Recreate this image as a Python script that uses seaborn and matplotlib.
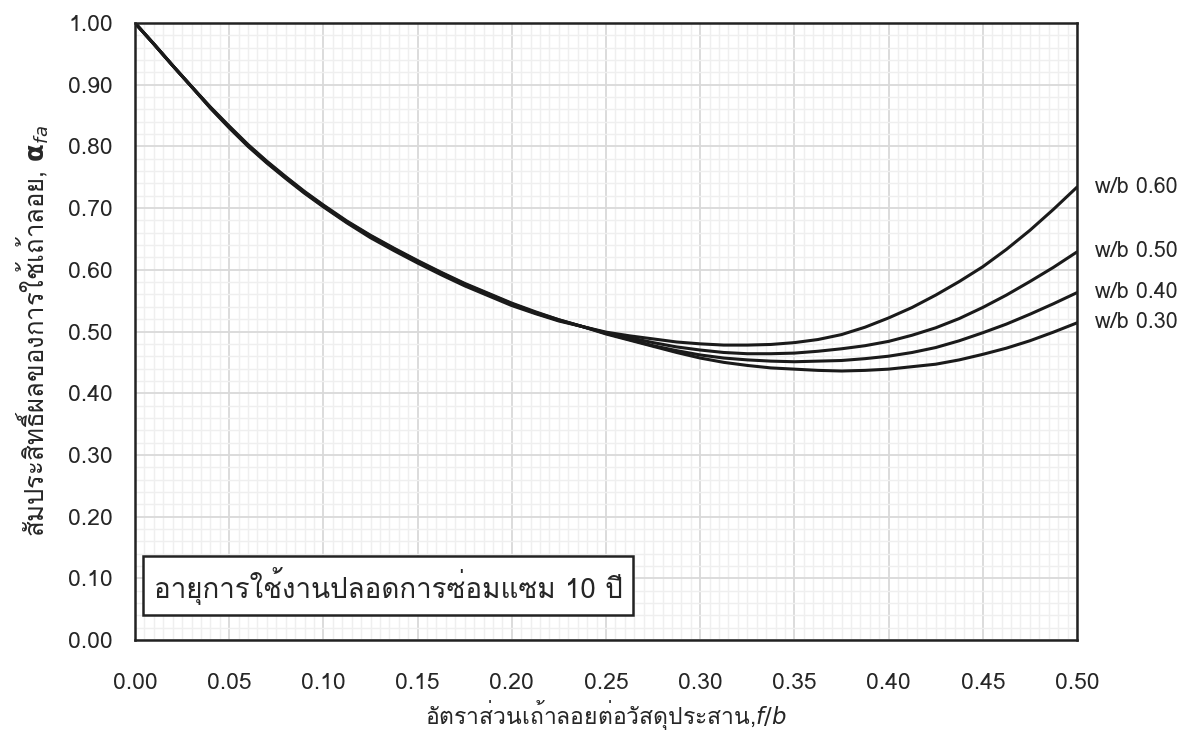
import numpy as np
import pandas as pd
import matplotlib
matplotlib.use('Agg')
import matplotlib.pyplot as plt
import seaborn as sns
from matplotlib import font_manager, ft2font
from matplotlib.ticker import MultipleLocator

# Dati
fb = [0.00, 0.01, 0.02, 0.03, 0.04, 0.05, 0.06, 0.07, 0.08, 0.09, 0.10,
      0.1125, 0.125, 0.1375, 0.15, 0.1625, 0.175, 0.1875, 0.20, 0.2125, 0.225, 0.2375,
      0.25, 0.2625, 0.275, 0.2875, 0.30, 0.3125, 0.325, 0.3375, 0.35, 0.3625, 0.375,
      0.3875, 0.40, 0.4125, 0.425, 0.4375, 0.45, 0.4625, 0.475, 0.4875, 0.50]
wb_labels = ['w/b 0.60', 'w/b 0.50', 'w/b 0.40', 'w/b 0.30']
alpha_060 = [1.0, 0.966, 0.931, 0.897, 0.862, 0.830, 0.800, 0.773, 0.748, 0.724, 0.702,
             0.676, 0.652, 0.631, 0.611, 0.592, 0.574, 0.558, 0.542, 0.529, 0.517, 0.508,
             0.499, 0.493, 0.488, 0.483, 0.480, 0.478, 0.478, 0.479, 0.482, 0.487, 0.495,
             0.507, 0.522, 0.539, 0.559, 0.581, 0.605, 0.633, 0.664, 0.698, 0.734]
alpha_050 = [1.0, 0.966, 0.931, 0.897, 0.863, 0.831, 0.801, 0.774, 0.749, 0.725, 0.703,
             0.677, 0.654, 0.633, 0.613, 0.594, 0.576, 0.560, 0.544, 0.530, 0.518, 0.508,
             0.498, 0.490, 0.482, 0.475, 0.470, 0.466, 0.464, 0.464, 0.465, 0.468, 0.472,
             0.477, 0.484, 0.494, 0.506, 0.521, 0.539, 0.559, 0.581, 0.604, 0.629]
alpha_040 = [1.0, 0.966, 0.931, 0.897, 0.863, 0.832, 0.802, 0.775, 0.750, 0.726, 0.704,
             0.678, 0.655, 0.634, 0.614, 0.595, 0.577, 0.561, 0.545, 0.531, 0.519, 0.508,
             0.497, 0.487, 0.477, 0.469, 0.462, 0.457, 0.454, 0.452, 0.451, 0.452, 0.453,
             0.456, 0.460, 0.466, 0.474, 0.485, 0.498, 0.512, 0.528, 0.545, 0.563]
alpha_030 = [1.0, 0.966, 0.931, 0.897, 0.864, 0.833, 0.803, 0.776, 0.751, 0.727, 0.705,
             0.679, 0.656, 0.635, 0.615, 0.596, 0.578, 0.562, 0.546, 0.532, 0.519, 0.508,
             0.496, 0.486, 0.476, 0.466, 0.457, 0.450, 0.445, 0.441, 0.439, 0.437, 0.436,
             0.437, 0.439, 0.443, 0.447, 0.454, 0.463, 0.473, 0.485, 0.499, 0.514]

xlabel = 'อัตราส่วนเถ้าลอยต่อวัสดุประสาน,$\\it{f/b}$'
ylabel = 'สัมประสิทธิ์ผลของการใช้เถ้าลอย, $\\mathbf{\\alpha}_{fa}$'
box_text = 'อายุการใช้งานปลอดการซ่อมแซม 10 ปี'

df = pd.DataFrame({
    'fb': fb * 4,
    'alpha': alpha_060 + alpha_050 + alpha_040 + alpha_030,
    'wb': sum([[w] * len(fb) for w in wb_labels], []),
})

sns.set_style('white')

# cerca un font con i glifi thai
thai = None
for f in font_manager.fontManager.ttflist:
    try:
        if 0x0E01 in ft2font.FT2Font(f.fname).get_charmap():
            thai = f.name
            break
    except Exception:
        pass
plt.rcParams['font.family'] = [thai, 'DejaVu Sans'] if thai else ['DejaVu Sans']

fig = plt.figure(figsize=(12, 7.31), dpi=100)
ax = fig.add_axes([0.1125, 0.1245, 0.785, 0.844])

sns.lineplot(data=df, x='fb', y='alpha', hue='wb', palette=['#1a1a1a'] * 4,
             linewidth=2.2, legend=False, ax=ax)

ax.set_xlim(0, 0.5)
ax.set_ylim(0, 1.0)
ax.xaxis.set_major_locator(MultipleLocator(0.05))
ax.xaxis.set_minor_locator(MultipleLocator(0.005))
ax.yaxis.set_major_locator(MultipleLocator(0.1))
ax.yaxis.set_minor_locator(MultipleLocator(0.02))
ax.xaxis.set_major_formatter(lambda v, p: f'{v:.2f}')
ax.yaxis.set_major_formatter(lambda v, p: f'{v:.2f}')
ax.grid(which='minor', color='#efefef', linewidth=1.0)
ax.grid(which='major', color='#d9d9d9', linewidth=1.3)
ax.set_axisbelow(True)
ax.tick_params(which='both', length=0, labelsize=16.5)
ax.tick_params(axis='x', pad=24)
ax.tick_params(axis='y', pad=16)
for s in ax.spines.values():
    s.set_color('#222222')
    s.set_linewidth(1.8)

ax.set_xlabel(xlabel, fontsize=16.5, labelpad=3)
ax.set_ylabel(ylabel, fontsize=18.5, labelpad=12)

# etichette delle curve
for w, vals in zip(wb_labels, [alpha_060, alpha_050, alpha_040, alpha_030]):
    ax.annotate(w, xy=(fb[-1], vals[-1]), xytext=(13, 0), textcoords='offset points',
                va='center', ha='left', fontsize=15.5, annotation_clip=False)

ax.text(0.01, 0.088, box_text, fontsize=20, va='center', ha='left',
        bbox=dict(boxstyle='square,pad=0.38', facecolor='white', edgecolor='#222222', linewidth=1.8))

fig.savefig('out.png', dpi=100)
